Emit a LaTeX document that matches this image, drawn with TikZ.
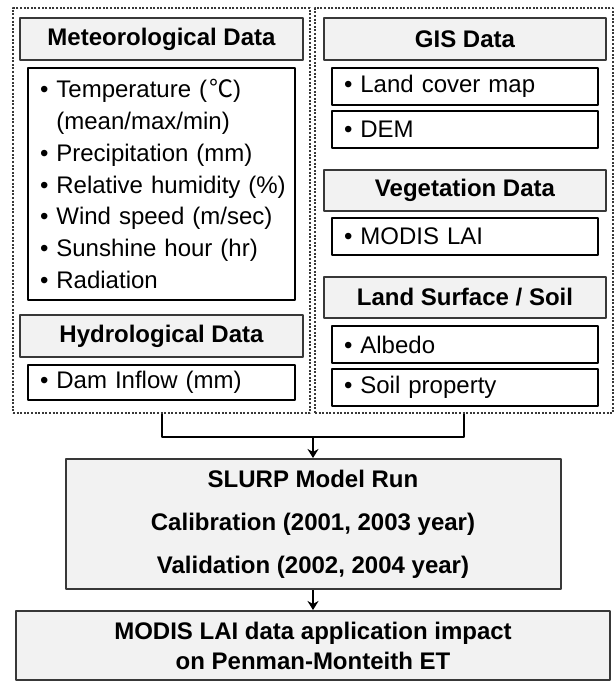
\documentclass[tikz,border=0pt]{standalone}
\usepackage{fontspec}
\setmainfont{Liberation Sans}
\newfontfamily\cjkfont{Noto Sans CJK KR}
\usetikzlibrary{arrows.meta}
\definecolor{boxgray}{HTML}{F2F2F2}
\definecolor{edgegray}{HTML}{383838}
\begin{document}
\begin{tikzpicture}[x=1pt,y=-1pt,line join=round,
  head/.style={draw=edgegray,line width=2pt,fill=boxgray,minimum width=283pt,minimum height=42pt,
    inner sep=0pt,align=center,font=\fontsize{24}{30}\selectfont\bfseries},
  item/.style={draw=black,line width=1.8pt,fill=white,minimum height=37pt,inner xsep=12pt,inner ysep=0pt,
    text width=243pt,align=left,font=\fontsize{24}{31.7}\selectfont},
  group/.style={draw=edgegray,line width=2pt,dash pattern=on 2pt off 1.6pt,inner sep=0pt},
  flow/.style={line width=2pt,-{Stealth[length=9pt,width=11pt]}}]
  \useasboundingbox (0,0) rectangle (615,682);
  \node (leftGroup) [group,minimum width=297pt,minimum height=405pt] at (161.5,210.5) {};
  \node (rightGroup) [group,minimum width=298pt,minimum height=405pt] at (464,210.5) {};
  \node (metHead) [head] at (161.5,39) {Meteorological Data};
  \node (metList) [item,minimum height=232pt] at (161.5,184)
    {\mbox{• Temperature (\hspace{2pt}{\cjkfont ℃})}\\\mbox{\phantom{• }(mean/max/min)}\\\mbox{• Precipitation (mm)}\\
     \mbox{• Relative humidity (\%)}\\\mbox{• Wind speed (m/sec)}\\\mbox{• Sunshine hour (hr)}\\\mbox{• Radiation}};
  \node (hydHead) [head] at (161.5,336) {Hydrological Data};
  \node (damBox) [item,minimum height=35pt] at (161.5,382.5) {• Dam Inflow (mm)};
  \node (gisHead) [head,minimum width=282pt] at (465,39) {GIS Data};
  \node (landBox) [item,text width=242pt] at (465,86.5) {• Land cover map};
  \node (demBox) [item,text width=242pt] at (465,129.5) {• DEM};
  \node (vegHead) [head,minimum width=282pt,minimum height=41pt] at (465,190.5) {Vegetation Data};
  \node (modisBox) [item,text width=242pt] at (465,236.5) {• MODIS LAI};
  \node (surfHead) [head,minimum width=282pt,minimum height=41pt] at (465,297.5) {Land Surface / Soil};
  \node (albedoBox) [item,text width=242pt] at (465,344.5) {• Albedo};
  \node (soilBox) [item,text width=242pt] at (465,387.5) {• Soil property};
  \node (runBox) [head,minimum width=495pt,minimum height=130pt,font=\fontsize{24}{43}\selectfont\bfseries] at (313,524)
    {SLURP Model Run\\Calibration (2001, 2003 year)\\Validation (2002, 2004 year)};
  \node (impactBox) [head,minimum width=594pt,minimum height=69pt] at (313,645.5)
    {MODIS LAI data application impact\\on Penman-Monteith ET};
  \coordinate (join) at (313,437);
  \draw[line width=2pt] (leftGroup.south) |- (join) -| (rightGroup.south);
  \draw[flow] (join) -- (runBox.north);
  \draw[flow] (runBox) -- (impactBox);
\end{tikzpicture}
\end{document}
